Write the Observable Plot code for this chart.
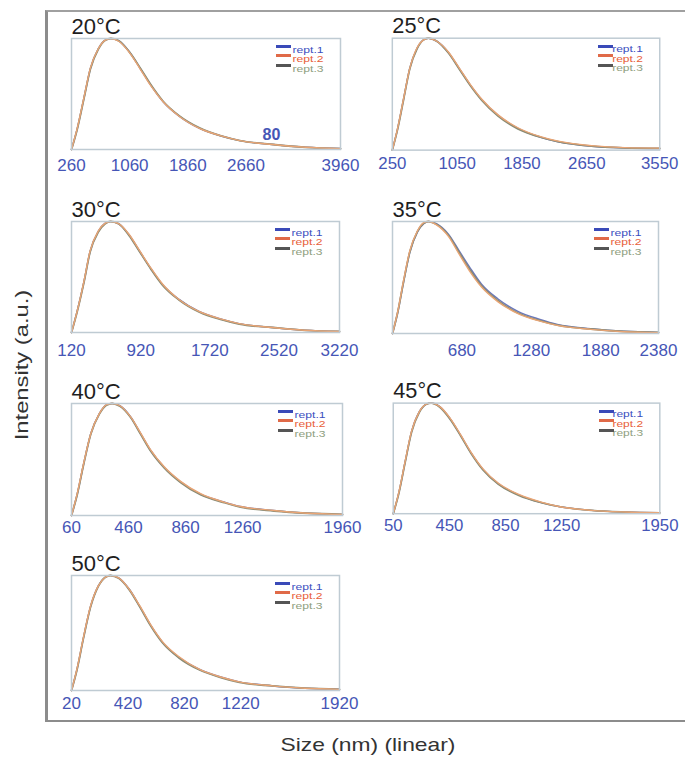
<!DOCTYPE html>
<html><head><meta charset="utf-8">
<script src="https://cdn.jsdelivr.net/npm/d3@7"></script>
<script src="https://cdn.jsdelivr.net/npm/@observablehq/plot@0.6"></script>
<style>
body{margin:0;background:#fff;font-family:"Liberation Sans",Arial,sans-serif;}
#root{position:relative;width:685px;height:760px;overflow:hidden;background:#fff;}
#frame{position:absolute;left:45px;top:10px;width:660px;height:708px;border-left:3px solid #8c8c8c;border-top:2px solid #a0a0a0;border-bottom:2px solid #8c8c8c;}
.panel{position:absolute;}
.sw{position:absolute;width:15px;height:3px;}
.ylab{position:absolute;left:22px;top:365px;font-size:19px;color:#333;white-space:nowrap;transform:translate(-50%,-50%) rotate(-90deg) scaleX(1.25);}
.xlab{position:absolute;left:368px;top:745px;font-size:19px;color:#333;white-space:nowrap;transform:translate(-50%,-50%) scaleX(1.2);}
</style></head><body>
<div id="root"><div id="frame"></div>
<div class="ylab">Intensity (a.u.)</div>
<div class="xlab">Size (nm) (linear)</div>
</div>
<script>
// ---------- DATA ----------
const temps = ["20°C", "25°C", "30°C", "35°C", "40°C", "45°C", "50°C"];
const series = ["rept.1", "rept.2", "rept.3"];

const ticks20 = [260, 1060, 1860, 2660, 3960];
const domain20 = [260, 3960];
const size20 = [260, 340, 430, 520, 630, 725, 800, 910, 1055, 1205, 1350, 1520, 1740, 2020, 2330, 2575, 3035, 3480, 3960];
const r1_20 = [0, 19, 46, 73, 91, 98.5, 100, 98, 88, 73, 58, 43, 30, 19, 12, 8, 4.5, 2, 0.8];
const r2_20 = [0, 19.5, 46.5, 73.5, 91, 98.5, 100, 97.5, 87.5, 72.5, 57.5, 43, 30, 19, 12, 8, 4.5, 2, 0.8];
const r3_20 = [0, 18.5, 45.5, 72.5, 90.5, 98.5, 100, 98, 88, 73.5, 58.5, 43.5, 30.5, 19.5, 12, 8, 4.5, 2, 0.8];

const ticks25 = [250, 1050, 1850, 2650, 3550];
const domain25 = [250, 3550];
const size25 = [250, 315, 390, 465, 555, 635, 695, 795, 945, 1075, 1205, 1355, 1555, 1800, 2080, 2295, 2710, 3120, 3550];
const r1_25 = [0, 19, 46, 73, 91, 98.5, 100, 97.5, 87, 73, 59, 45, 31, 19.5, 11.5, 7.5, 3.5, 2, 1.5];
const r2_25 = [0, 19.5, 46.5, 73, 91.5, 98.5, 100, 97.5, 87.5, 73.5, 59.5, 45.5, 31.5, 20, 12, 8, 4, 2.2, 1.8];
const r3_25 = [0, 18.5, 45.5, 72.5, 90.5, 98.5, 100, 97.5, 86.5, 72.5, 58.5, 44.5, 30.5, 19, 11.5, 7.5, 3.5, 2, 1.5];

const ticks30 = [120, 920, 1720, 2520, 3220];
const domain30 = [120, 3220];
const size30 = [120, 185, 265, 335, 430, 510, 570, 665, 785, 910, 1035, 1175, 1360, 1595, 1855, 2060, 2445, 2815, 3220];
const r1_30 = [0, 19, 46, 73, 91, 98.5, 100, 98, 88, 73, 58, 43, 30, 19, 12, 8, 4.5, 2, 1];
const r2_30 = [0, 19, 46.5, 73.5, 91.5, 98.5, 100, 98, 88.5, 73.5, 58.5, 43.5, 30, 19, 12, 8, 4.5, 2, 1];
const r3_30 = [0, 18.5, 45.5, 72.5, 90.5, 98, 100, 98, 87.5, 72.5, 57.5, 42.5, 29.5, 18.5, 11.5, 7.5, 4.5, 2, 1];

const ticks35 = [680, 1280, 1880, 2380];
const domain35 = [80, 2380];
const size35 = [80, 125, 175, 230, 295, 350, 390, 460, 565, 655, 745, 850, 990, 1160, 1355, 1505, 1795, 2080, 2380];
const r1_35 = [0, 18.5, 45.5, 72.5, 90.5, 98, 100, 98, 88.5, 74, 59.5, 44, 31, 20, 12.5, 8, 4.2, 1.9, 1];
const r2_35 = [0, 19.5, 47, 74, 91.5, 99, 100, 97, 86.5, 71, 56, 41.5, 28.5, 18, 11, 7.2, 3.7, 1.6, 0.8];
const r3_35 = [0, 19, 46, 73, 91, 98.5, 100, 97.5, 87.5, 72.5, 57.5, 42.5, 29.5, 18.5, 11.5, 7.5, 4, 1.8, 0.9];

const ticks40 = [60, 460, 860, 1260, 1960];
const domain40 = [60, 1960];
const size40 = [60, 100, 145, 195, 255, 305, 345, 400, 475, 545, 615, 710, 825, 965, 1130, 1245, 1480, 1715, 1960];
const r1_40 = [0, 19, 46, 73, 91, 99, 100, 98, 88, 73, 58, 43, 30, 19, 12, 8, 4.5, 2, 1];
const r2_40 = [0, 19.5, 46.5, 73, 91, 99, 100, 98, 88, 73.5, 58.5, 43.5, 30.5, 19.5, 12, 8, 4.5, 2, 1];
const r3_40 = [0, 18.5, 45.5, 72.5, 90.5, 98.5, 100, 97.5, 87.5, 72.5, 57.5, 42.5, 29.5, 18.5, 11.5, 7.5, 4, 2, 1];

const ticks45 = [50, 450, 850, 1250, 1950];
const domain45 = [50, 1950];
const size45 = [50, 90, 135, 180, 235, 285, 320, 380, 455, 530, 605, 690, 800, 945, 1105, 1230, 1465, 1705, 1950];
const r1_45 = [0, 19, 47, 74, 92, 99, 100, 97, 86, 71, 55, 40, 27, 17, 10, 6.5, 3, 1.5, 0.8];
const r2_45 = [0, 19.5, 47.5, 74.5, 92, 99, 100, 97, 86.5, 71.5, 55.5, 40.5, 27.5, 17.5, 10.5, 6.5, 3, 1.5, 0.8];
const r3_45 = [0, 18.5, 46.5, 73.5, 91.5, 99, 100, 96.5, 85.5, 70.5, 54.5, 39.5, 26.5, 16.5, 10, 6.5, 3, 1.5, 0.8];

const ticks50 = [20, 420, 820, 1220, 1920];
const domain50 = [20, 1920];
const size50 = [20, 60, 105, 155, 210, 260, 295, 355, 430, 505, 580, 665, 780, 925, 1085, 1210, 1445, 1675, 1920];
const r1_50 = [0, 19, 46, 73, 91, 98.5, 100, 98, 88, 73, 57, 42, 29, 18.5, 11.5, 7.5, 4, 2, 1];
const r2_50 = [0, 19.5, 46.5, 73.5, 91, 98.5, 100, 98, 88, 73.5, 57.5, 42.5, 29.5, 18.5, 11.5, 7.5, 4, 2, 1];
const r3_50 = [0, 18.5, 45.5, 72.5, 90.5, 98.5, 100, 97.5, 87.5, 72.5, 56.5, 41.5, 28.5, 18, 11, 7, 4, 2, 1];

// stray annotation in the 20°C panel
const note20 = [{size: 3010, value: 13, text: "80"}];

// ---------- BUILD ----------
const panels = [
  {temp: temps[0], ticks: ticks20, domain: domain20, size: size20, reps: [r1_20, r2_20, r3_20], notes: note20},
  {temp: temps[1], ticks: ticks25, domain: domain25, size: size25, reps: [r1_25, r2_25, r3_25], notes: []},
  {temp: temps[2], ticks: ticks30, domain: domain30, size: size30, reps: [r1_30, r2_30, r3_30], notes: []},
  {temp: temps[3], ticks: ticks35, domain: domain35, size: size35, reps: [r1_35, r2_35, r3_35], notes: []},
  {temp: temps[4], ticks: ticks40, domain: domain40, size: size40, reps: [r1_40, r2_40, r3_40], notes: []},
  {temp: temps[5], ticks: ticks45, domain: domain45, size: size45, reps: [r1_45, r2_45, r3_45], notes: []},
  {temp: temps[6], ticks: ticks50, domain: domain50, size: size50, reps: [r1_50, r2_50, r3_50], notes: []}
];

// layout (box left, box top, box width, box height, tick padding)
const layout = [
  {l: 71, t: 38, w: 269, h: 111, pad: 9},
  {l: 392, t: 38, w: 270, h: 113, pad: 7},
  {l: 71, t: 221, w: 268, h: 111, pad: 11},
  {l: 392, t: 221, w: 266, h: 112, pad: 10},
  {l: 71, t: 403, w: 271, h: 112, pad: 5},
  {l: 393, t: 403, w: 270, h: 112, pad: 5},
  {l: 71, t: 575, w: 268, h: 115, pad: 6}
];

const lineStyle = {
  "rept.1": {stroke: "#6a76bd", width: 1.5},
  "rept.2": {stroke: "#e9a575", width: 1.4},
  "rept.3": {stroke: "#8a8c74", width: 1.8}
};
const drawOrder = ["rept.1", "rept.3", "rept.2"];
const legendText = ["#3c4fc0", "#e8603a", "#8fa080"];
const legendSwatch = ["#3a4ab8", "#e06a48", "#555555"];
const legRow = [8, 17.5, 27];

const ML = 20, MR = 26, MT = 30, MB = 30;
const root = document.getElementById("root");

panels.forEach((p, idx) => {
  const L = layout[idx];
  const rows = p.size.flatMap((s, i) => p.reps.map((r, k) => ({size: s, value: r[i], rept: series[k]})));
  const marks = [];
  drawOrder.forEach(name => {
    marks.push(Plot.line(rows.filter(d => d.rept === name), {
      x: "size", y: "value", curve: "monotone-x",
      stroke: lineStyle[name].stroke, strokeWidth: lineStyle[name].width
    }));
  });
  marks.push(Plot.frame({stroke: "#bfcbd3", strokeWidth: 1.5}));
  marks.push(Plot.axisX(p.ticks, {
    tickSize: 0, tickPadding: L.pad, fontSize: 17, fill: "#4656b6",
    tickFormat: d => String(d), label: null
  }));
  // title
  marks.push(Plot.text([p.temp], {
    frameAnchor: "top-left", dx: 0, dy: -5, text: d => d,
    textAnchor: "start", lineAnchor: "bottom", fontSize: 22, fill: "#1e1e1e"
  }));
  // legend labels
  series.forEach((name, i) => {
    marks.push(Plot.text([name], {
      frameAnchor: "top-right", dx: -17, dy: legRow[i], text: d => d,
      textAnchor: "end", fontSize: 9, fill: legendText[i], className: "leg"
    }));
  });
  if (p.notes.length) {
    marks.push(Plot.text(p.notes, {
      x: "size", y: "value", text: "text", fontSize: 16, fontWeight: "bold", fill: "#4656b6"
    }));
  }
  const chart = Plot.plot({
    width: L.w + ML + MR,
    height: L.h + MT + MB,
    marginLeft: ML, marginRight: MR, marginTop: MT, marginBottom: MB,
    x: {domain: p.domain, label: null},
    y: {domain: [0, 100], axis: null},
    style: {fontFamily: '"Liberation Sans", Arial, sans-serif', background: "transparent", overflow: "visible"},
    marks
  });
  d3.select(chart).selectAll(".leg text")
    .attr("textLength", 31).attr("lengthAdjust", "spacingAndGlyphs");
  const wrap = document.createElement("div");
  wrap.className = "panel";
  wrap.style.left = (L.l - ML) + "px";
  wrap.style.top = (L.t - MT) + "px";
  wrap.appendChild(chart);
  root.appendChild(wrap);
  // legend swatches (plain shapes, not text)
  series.forEach((name, i) => {
    const sw = document.createElement("div");
    sw.className = "sw";
    sw.style.background = legendSwatch[i];
    sw.style.left = (L.l + L.w - 49 - 15) + "px";
    sw.style.top = (L.t + legRow[i] - 1.5) + "px";
    root.appendChild(sw);
  });
});
</script>
</body></html>
